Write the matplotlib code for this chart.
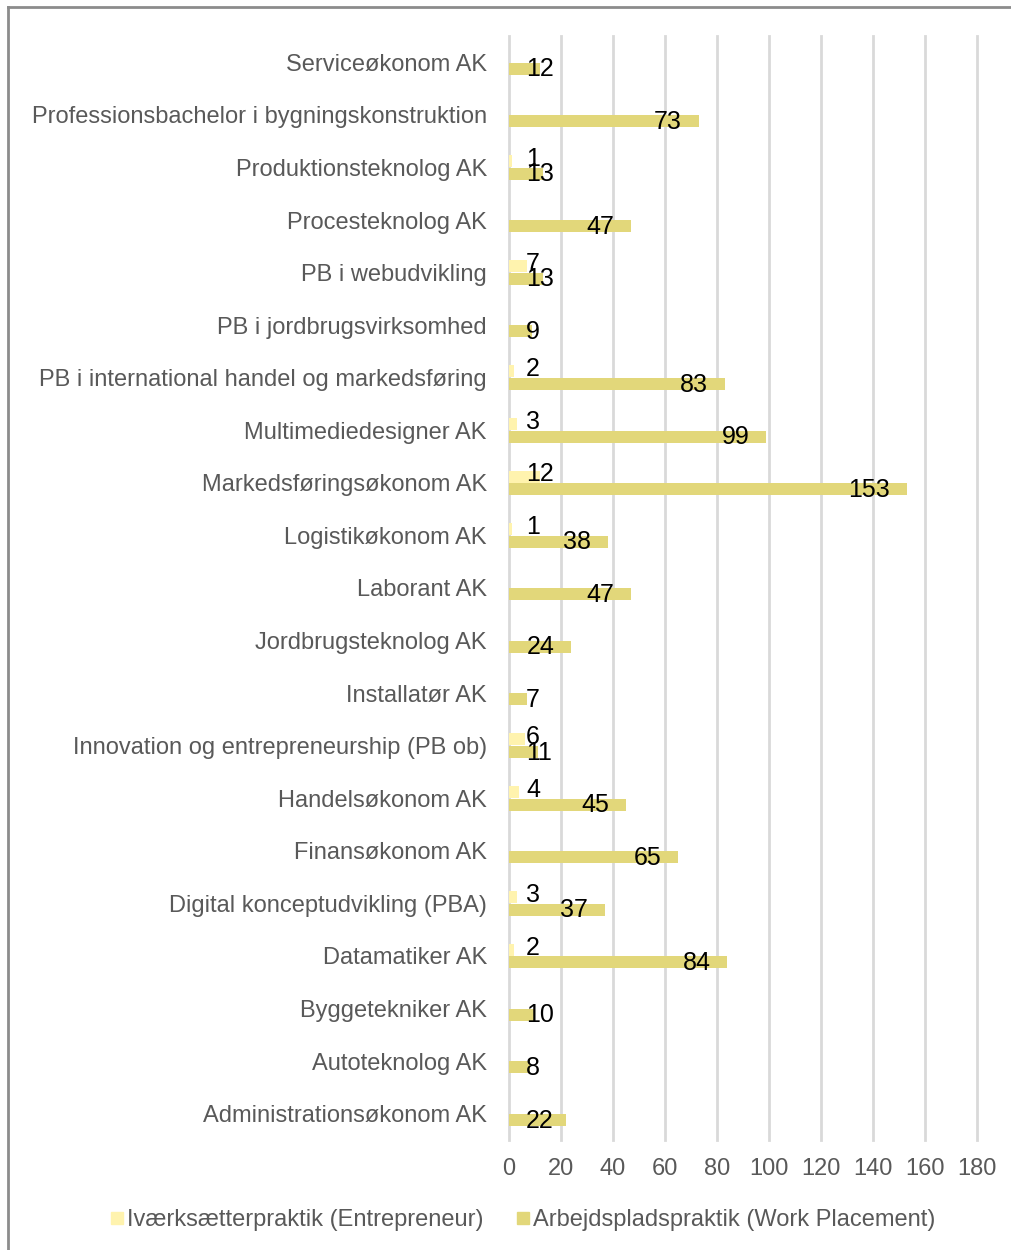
import matplotlib.pyplot as plt
from matplotlib.lines import Line2D

plt.rcParams['font.family'] = ['Liberation Sans', 'DejaVu Sans']

programmes = [
    'Serviceøkonom AK',
    'Professionsbachelor i bygningskonstruktion',
    'Produktionsteknolog AK',
    'Procesteknolog AK',
    'PB i webudvikling',
    'PB i jordbrugsvirksomhed',
    'PB i international handel og markedsføring',
    'Multimediedesigner AK',
    'Markedsføringsøkonom AK',
    'Logistikøkonom AK',
    'Laborant AK',
    'Jordbrugsteknolog AK',
    'Installatør AK',
    'Innovation og entrepreneurship (PB ob)',
    'Handelsøkonom AK',
    'Finansøkonom AK',
    'Digital konceptudvikling (PBA)',
    'Datamatiker AK',
    'Byggetekniker AK',
    'Autoteknolog AK',
    'Administrationsøkonom AK',
]
entrepreneur = [0, 0, 1, 0, 7, 0, 2, 3, 12, 1, 0, 0, 0, 6, 4, 0, 3, 2, 0, 0, 0]
placement = [12, 73, 13, 47, 13, 9, 83, 99, 153, 38, 47, 24, 7, 11, 45, 65, 37, 84, 10, 8, 22]
ticks = [0, 20, 40, 60, 80, 100, 120, 140, 160, 180]

col_ent = '#FFF3AE'
col_pla = '#E2D77A'
grey = '#595959'

fig = plt.figure(figsize=(10.12, 12.5), dpi=100)
ax = fig.add_axes([509 / 1012, 1 - 1140 / 1250, (977 - 509) / 1012, (1140 - 36) / 1250])

pos = list(range(len(programmes)))
h = 0.23
ax.barh([p - 0.12 for p in pos], entrepreneur, height=h, color=col_ent, zorder=3)
ax.barh([p + 0.12 for p in pos], placement, height=h, color=col_pla, zorder=3)

ax.set_xlim(0, 180)
ax.set_ylim(len(programmes) - 0.5, -0.5)
ax.set_xticks(ticks)
ax.set_yticks(pos)
ax.set_yticklabels(programmes)
ax.tick_params(axis='both', length=0, labelsize=17, labelcolor=grey)
ax.tick_params(axis='y', pad=16)
ax.tick_params(axis='x', pad=13)
for s in ax.spines.values():
    s.set_visible(False)
ax.grid(axis='x', color='#D9D9D9', linewidth=2, zorder=0)
for gl in ax.get_xgridlines():
    gl.set_clip_on(False)

# data labels, Excel style: inside end, but pushed right on short bars
def put_label(val, y):
    if not val:
        return
    w = 5.35 * len(str(val))
    if val - 6.5 - w >= 6.5:
        ax.text(val - 6.5, y, str(val), ha='right', va='center', fontsize=18, color='black', zorder=4)
    else:
        ax.text(6.5, y, str(val), ha='left', va='center', fontsize=18, color='black', zorder=4)

for p, e, v in zip(pos, entrepreneur, placement):
    put_label(e, p - 0.16)
    put_label(v, p + 0.13)

handles = [
    Line2D([], [], marker='s', linestyle='none', markersize=9, color=col_ent),
    Line2D([], [], marker='s', linestyle='none', markersize=9, color=col_pla),
]
fig.legend(handles, ['Iværksætterpraktik (Entrepreneur)', 'Arbejdspladspraktik (Work Placement)'],
           loc='center', bbox_to_anchor=(521 / 1012, 1 - 1220 / 1250), ncol=2, frameon=False,
           fontsize=17, labelcolor=grey, handletextpad=0.0, columnspacing=1.2, handlelength=0.9)

# outer chart border (left and top edges visible)
fig.add_artist(Line2D([8 / 1012, 8 / 1012], [0, 1 - 7 / 1250], color='#8C8C8C', linewidth=2))
fig.add_artist(Line2D([8 / 1012, 1], [1 - 7 / 1250, 1 - 7 / 1250], color='#8C8C8C', linewidth=2))

fig.savefig('out.png', dpi=100)
